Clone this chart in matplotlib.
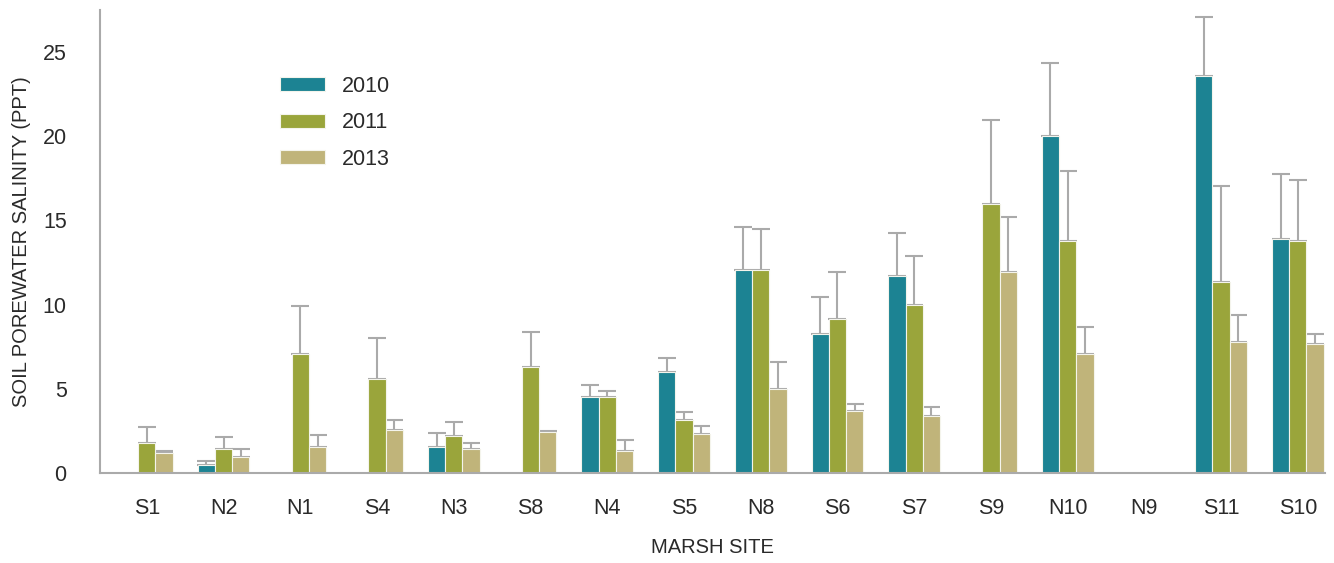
# %% imports
import numpy as np
import matplotlib
matplotlib.use('Agg')
import matplotlib.pyplot as plt

# %% data
sites = ['S1', 'N2', 'N1', 'S4', 'N3', 'S8', 'N4', 'S5',
         'N8', 'S6', 'S7', 'S9', 'N10', 'N9', 'S11', 'S10']
years = ['2010', '2011', '2013']

sal_2010 = [0, 0.49, 0, 0, 1.52, 0, 4.53, 6.02, 12.05, 8.24, 11.7, 0, 20.0, 0, 23.6, 13.9]
sal_2011 = [1.76, 1.4, 7.08, 5.58, 2.2, 6.27, 4.53, 3.13, 12.05, 9.17, 9.96, 15.99, 13.8, 0, 11.36, 13.8]
sal_2013 = [1.17, 0.95, 1.52, 2.57, 1.4, 2.45, 1.3, 2.32, 4.99, 3.7, 3.37, 11.94, 7.07, 0, 7.76, 7.64]

# upper error (std) for each bar
err_2010 = [0, 0.24, 0, 0, 0.83, 0, 0.71, 0.83, 2.58, 2.21, 2.57, 0, 4.35, 0, 3.5, 3.86]
err_2011 = [0.95, 0.72, 2.81, 2.45, 0.84, 2.09, 0.36, 0.47, 2.44, 2.79, 2.93, 4.97, 4.17, 0, 5.7, 3.6]
err_2013 = [0.12, 0.46, 0.71, 0.59, 0.36, 0.02, 0.68, 0.47, 1.62, 0.38, 0.57, 3.26, 1.62, 0, 1.64, 0.61]

colors = ['#1c8393', '#9aa53b', '#c0b47a']

# %% plot
plt.rcParams['font.family'] = ['Liberation Sans', 'DejaVu Sans']
text_color = '#2a2a2a'

fig = plt.figure(figsize=(13.34, 5.63), dpi=100)
ax = fig.add_axes([0.075, 0.16, 0.918, 0.822])

x = np.arange(len(sites))
w = 0.225
series = [(sal_2010, err_2010), (sal_2011, err_2011), (sal_2013, err_2013)]
for i, (vals, errs) in enumerate(series):
    vals = np.array(vals)
    errs = np.array(errs)
    pos = x + (i - 1) * w
    ax.bar(pos, vals, width=w, color=colors[i], edgecolor='#f4f4ec',
           linewidth=0.8, label=years[i], zorder=2)
    has = vals > 0
    ax.errorbar(pos[has], vals[has], yerr=[np.zeros(has.sum()), errs[has]],
                fmt='none', ecolor='#aaaaaa', elinewidth=1.5, capsize=6.5,
                capthick=1.5, zorder=1)

ax.set_xlim(-0.61, 15.35)
ax.set_ylim(0, 27.5)
ax.set_yticks([0, 5, 10, 15, 20, 25])
ax.set_xticks(x)
ax.set_xticklabels(sites)
ax.tick_params(axis='both', length=0, labelsize=15.5, labelcolor=text_color)
ax.tick_params(axis='y', pad=24)
ax.tick_params(axis='x', pad=18)

for side in ['top', 'right']:
    ax.spines[side].set_visible(False)
for side in ['left', 'bottom']:
    ax.spines[side].set_color('#aaaaaa')
    ax.spines[side].set_linewidth(1.5)

ax.set_ylabel('SOIL POREWATER SALINITY (PPT)', fontsize=14.5, color=text_color, labelpad=8)
ax.set_xlabel('MARSH SITE', fontsize=14.5, color=text_color, labelpad=14)

leg = ax.legend(loc='upper left', bbox_to_anchor=(0.131, 0.9), frameon=False,
                fontsize=15.5, handlelength=2.1, handleheight=0.65,
                labelspacing=0.72, handletextpad=0.8)
for t in leg.get_texts():
    t.set_color(text_color)

fig.savefig('out.png', dpi=100)
